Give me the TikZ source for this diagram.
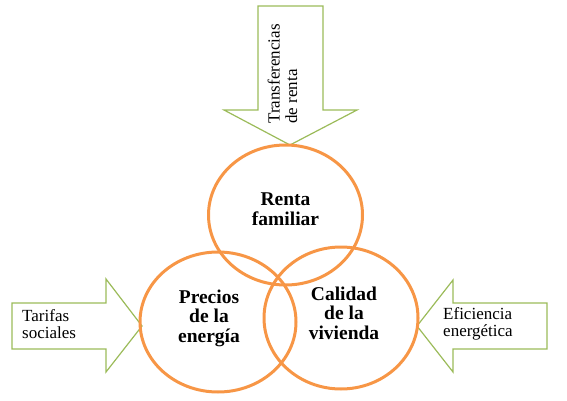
\documentclass[tikz,border=0pt]{standalone}
\usepackage{fontspec}
\setmainfont{Liberation Serif}
\usetikzlibrary{shapes.geometric}
\definecolor{ringorange}{HTML}{F79646}
\definecolor{arrowgreen}{HTML}{9BBB59}
\tikzset{
  ring node/.style={
    draw=ringorange, line width=3pt, ellipse, inner sep=0pt
  },
  ring text/.style={
    align=center, inner sep=0pt, font=\fontsize{19.5}{19.5}\selectfont\bfseries
  },
  push arrow/.style={
    draw=arrowgreen, line width=1.2pt, line join=miter
  },
  push text/.style={
    align=left, inner sep=0pt, font=\fontsize{17}{17.5}\selectfont
  }
}

\begin{document}
\begin{tikzpicture}[x=1pt, y=-1pt]
    \useasboundingbox (0,0) rectangle (567,401);
    % arrows pushing on the rings
    \draw[push arrow] (258,6) -- (323,6) -- (323,110) -- (357,110) -- (290,145) -- (224,110) -- (258,110) -- cycle;
    \draw[push arrow] (12,303) -- (106,303) -- (106,279) -- (142,326) -- (106,372) -- (106,349) -- (12,349) -- cycle;
    \draw[push arrow] (547,303) -- (453,303) -- (453,280) -- (417,326) -- (453,372) -- (453,349) -- (547,349) -- cycle;
    \draw (282.5,74) node[push text, rotate=90] (transfer) {Transferencias\\de renta};
    \draw (22,324) node[push text, anchor=west] (tarifas) {Tarifas\\sociales};
    \draw (443,324) node[push text, anchor=west] (eficiencia) {Eficiencia\\energética};
    % the three rings
    \draw (285.5,215) node[ring node, minimum width=154pt, minimum height=140pt] (renta) {};
    \draw (218,322) node[ring node, minimum width=156pt, minimum height=140pt] (precios) {};
    \draw (341,318) node[ring node, minimum width=154pt, minimum height=142pt] (calidad) {};
    \draw (285.5,209) node[ring text] (renta label) {Renta\\familiar};
    \draw (209,318) node[ring text] (precios label) {Precios\\de la\\energía};
    \draw (344,313) node[ring text] (calidad label) {Calidad\\de la\\vivienda};
\end{tikzpicture}
\end{document}
